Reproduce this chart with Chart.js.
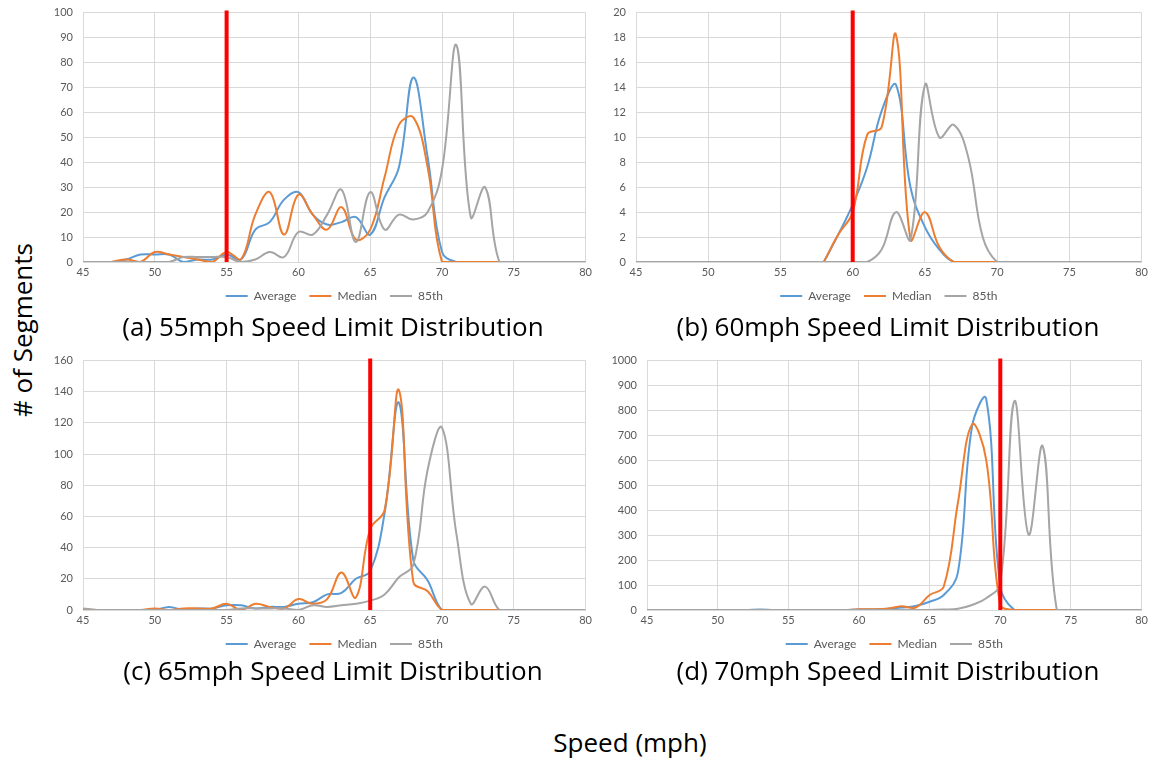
<!DOCTYPE html>
<html>
<head>
<meta charset="utf-8">
<script src="https://cdn.jsdelivr.net/npm/chart.js@4.4.0/dist/chart.umd.min.js"></script>
<style>
  body { margin: 0; background: #fff; }
  #wrap { position: relative; width: 1156px; height: 759px; font-family: "Open Sans", Lato, sans-serif; }
  canvas { position: absolute; }
  .cap { position: absolute; font-size: 26px; color: #000; white-space: nowrap; transform: translate(-50%, -50%); }
  #ylab { position: absolute; left: 22px; top: 330px; font-size: 26px; white-space: nowrap; transform: translate(-50%, -50%) rotate(-90deg); }
</style>
</head>
<body>
<div id="wrap">
  <canvas id="chartA" width="556" height="316" style="left:40px;top:-4px"></canvas>
  <canvas id="chartB" width="556" height="316" style="left:596px;top:-4px"></canvas>
  <canvas id="chartC" width="556" height="316" style="left:40px;top:344px"></canvas>
  <canvas id="chartD" width="556" height="316" style="left:596px;top:344px"></canvas>
  <div class="cap" style="left:333px;top:326px">(a) 55mph Speed Limit Distribution</div>
  <div class="cap" style="left:888px;top:326px">(b) 60mph Speed Limit Distribution</div>
  <div class="cap" style="left:333px;top:670px">(c) 65mph Speed Limit Distribution</div>
  <div class="cap" style="left:888px;top:670px">(d) 70mph Speed Limit Distribution</div>
  <div id="ylab"># of Segments</div>
  <div class="cap" style="left:630px;top:742px">Speed (mph)</div>
</div>
<script>
// speeds 45..80 mph
const speeds = [45,46,47,48,49,50,51,52,53,54,55,56,57,58,59,60,61,62,63,64,65,66,67,68,69,70,71,72,73,74,75,76,77,78,79,80];
const seriesNames = ['Average', 'Median', '85th'];

// (a) 55 mph
const aAverage = [0,0,0,1,3,3,3,0,1,1,3,1,13,16,25,28,19,15,16,18,11,26,38,74,42,4,0,0,0,0,0,0,0,0,0,0];
const aMedian  = [null,null,0,1,0,4,3,2,1,0,4,1,19,28,11,27,19,13,22,9,13,34,55,58,38,0,0,0,0,0,0,null,null,null,null,null];
const a85th    = [0,0,0,0,0,0,0,2,2,2,2,0,1,4,2,12,11,19,29,8,28,13,19,17,20,37,87,18,30,0,0,0,0,0,0,0];

// (b) 60 mph
const bAverage = [null,null,null,null,null,null,null,null,null,null,null,null,null,0,2.2,4.6,7.6,12.1,14.2,6,2.8,1,0,0,0,0,null,null,null,null,null,null,null,null,null,null];
const bMedian  = [null,null,null,null,null,null,null,null,null,null,null,null,null,0,2.2,4,10.2,10.8,18.2,1.8,4,1.2,0,0,0,0,null,null,null,null,null,null,null,null,null,null];
const b85th    = [0,0,0,0,0,0,0,0,0,0,0,0,0,0,0,0,0,1,4,1.8,14.2,10,11,8.4,2,0,0,0,0,0,0,0,0,0,0,0];

// (c) 65 mph
const cAverage = [0,0,0,0,0,0,2,0,1,1,3,3,1,2,2,4,5,10,11,20,25,62,133,32,19,0,0,null,null,null,null,null,null,null,null,null];
const cMedian  = [0,0,0,0,0,1,0,1,1,1,4,0,4,2,1,7,4,7,24,8,52,64,141,18,12,0,0,0,0,0,0,null,null,null,null,null];
const c85th    = [1,0,0,0,0,0,0,0,0,0,0,1,1,1,1,0,3,2,3,4,6,10,21,29,90,117,49,4,15,0,0,0,0,0,0,0];

// (d) 70 mph
const dAverage = [0,0,0,0,0,0,0,0,2,0,0,0,0,0,0,2,2,5,10,16,33,60,150,735,847,94,0,0,0,0,0,null,null,null,null,null];
const dMedian  = [0,0,0,0,0,0,0,0,0,0,0,0,0,0,0,3,3,5,15,10,60,94,430,744,603,20,0,0,0,0,0,null,null,null,null,null];
const d85th    = [0,0,0,0,0,0,0,0,0,0,0,0,0,0,0,0,0,0,0,0,0,2,5,20,47,107,838,302,657,0,0,0,0,0,0,0];

const colors = ['#5B9BD5', '#ED7D31', '#A5A5A5'];

const limitLine = {
  id: 'limitLine',
  afterDatasetsDraw(chart, args, opts) {
    const c = chart.ctx, x = chart.scales.x.getPixelForValue(opts.value);
    c.save();
    c.strokeStyle = '#FF0000';
    c.lineWidth = 4;
    c.beginPath();
    c.moveTo(x, chart.chartArea.top - 2);
    c.lineTo(x, chart.chartArea.bottom);
    c.stroke();
    c.restore();
  }
};

function pts(vals) {
  return speeds.map((s, i) => ({ x: s, y: vals[i] }));
}

function makeChart(id, series, yMax, yStep, limit, yWidth) {
  new Chart(document.getElementById(id), {
    type: 'line',
    data: {
      datasets: series.map((vals, i) => ({
        label: seriesNames[i],
        data: pts(vals),
        borderColor: colors[i],
        backgroundColor: colors[i],
        borderWidth: 2,
        pointRadius: 0,
        tension: 0.4,
        order: 3 - i
      }))
    },
    options: {
      responsive: false,
      animation: false,
      layout: { autoPadding: false, padding: { top: 8, right: 9, left: 0, bottom: 0 } },
      plugins: {
        limitLine: { value: limit },
        tooltip: { enabled: false },
        legend: {
          position: 'bottom',
          fullSize: false,
          labels: {
            boxWidth: 22,
            boxHeight: 0,
            padding: 13,
            color: '#595959',
            font: { family: 'Lato', size: 12 },
            sort: (a, b) => a.datasetIndex - b.datasetIndex
          }
        }
      },
      scales: {
        x: {
          type: 'linear',
          min: 45, max: 80,
          ticks: { stepSize: 5, color: '#595959', font: { family: 'Lato', size: 11 }, padding: 4 },
          grid: { color: '#D9D9D9', drawTicks: false },
          border: { color: '#D9D9D9' },
          afterFit: s => { s.height = 15; }
        },
        y: {
          min: 0, max: yMax,
          ticks: { stepSize: yStep, color: '#595959', font: { family: 'Lato', size: 11 }, padding: 10,
                   callback: v => String(v) },
          grid: { color: '#D9D9D9', drawTicks: false },
          border: { display: false },
          afterFit: s => { s.width = yWidth; }
        }
      }
    },
    plugins: [limitLine]
  });
}

makeChart('chartA', [aAverage, aMedian, a85th], 100, 10, 55, 43);
makeChart('chartB', [bAverage, bMedian, b85th], 20, 2, 60, 40);
makeChart('chartC', [cAverage, cMedian, c85th], 160, 20, 65, 43);
makeChart('chartD', [dAverage, dMedian, d85th], 1000, 100, 70, 51);
</script>
</body>
</html>
